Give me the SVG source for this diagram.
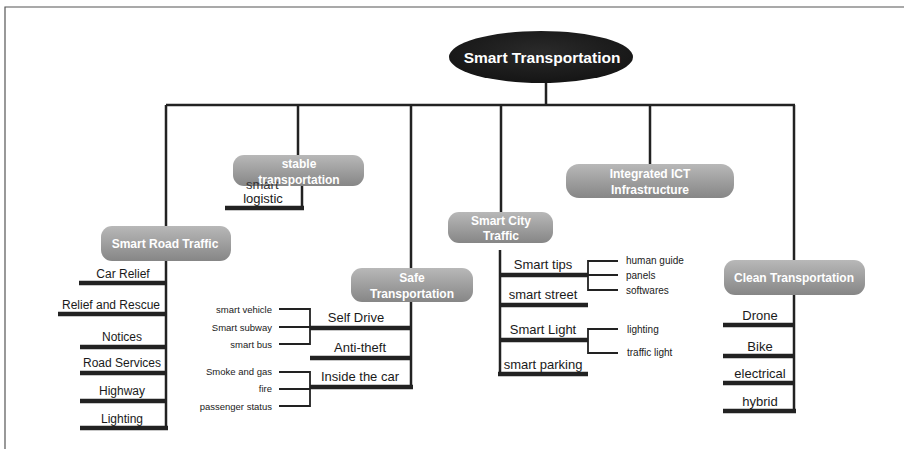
<svg xmlns="http://www.w3.org/2000/svg" width="904" height="449" viewBox="0 0 904 449">
<defs>
<linearGradient id="g" x1="0" y1="0" x2="0" y2="1">
<stop offset="0" stop-color="#b8b8b8"/>
<stop offset="1" stop-color="#868686"/>
</linearGradient>
<radialGradient id="e" cx="0.5" cy="0.4" r="0.6">
<stop offset="0" stop-color="#2a2a2a"/>
<stop offset="1" stop-color="#151515"/>
</radialGradient>
</defs>
<style>
.f{fill:none;stroke:#555;stroke-width:1.2}
.m{fill:none;stroke:#222;stroke-width:2.5}
.u{fill:none;stroke:#222;stroke-width:4.5}
.b{fill:none;stroke:#222;stroke-width:1.8}
.box{fill:url(#g)}
.bt{font-family:"Liberation Sans",Arial,sans-serif;font-weight:bold;font-size:12px;fill:#fff;text-anchor:middle}
.t{font-family:"Liberation Sans",Arial,sans-serif;font-size:13px;fill:#1a1a1a;text-anchor:middle}
.tl{font-family:"Liberation Sans",Arial,sans-serif;font-size:12px;fill:#1a1a1a;text-anchor:middle}
.s{font-family:"Liberation Sans",Arial,sans-serif;font-size:9.5px;fill:#1a1a1a;text-anchor:end}
.sr{font-family:"Liberation Sans",Arial,sans-serif;font-size:10px;fill:#1a1a1a}
</style>
<rect width="904" height="449" fill="#fff"/>
<path class="f" d="M5,449 V7 H904"/>
<g id="connectors">
<path class="m" d="M546,82 V105 M166,105 H795 M166,105 V226 M298,105 V155 M411,105 V268 M501,105 V212 M650,105 V164 M794,105 V260"/>
<path class="m" d="M166,261 V429 M302,186 V208 M411,302 V388 M500,250 V375 M794,295 V413"/>
<path class="u" d="M79,283 H166 M58,314 H166 M80,347 H166 M80,373 H166 M80,401 H166 M80,428 H168"/>
<path class="u" d="M225,208 H304"/>
<path class="u" d="M310,328 H411 M310,358 H411 M310,387 H413"/>
<path class="u" d="M500,275 H588 M500,305 H588 M500,340 H588 M498,374 H588"/>
<path class="u" d="M723,325 H794 M723,356 H794 M723,383 H794 M723,411 H796"/>
<path class="b" d="M279,309 H310 V344 H279 M279,327 H310 M279,372 H310 V406 H279 M279,389 H310"/>
<path class="b" d="M618,261 H588 V290 H618 M588,275 H618 M618,329 H588 V353 H618"/>
</g>
<g id="root">
<ellipse cx="541" cy="57" rx="92" ry="26" fill="url(#e)"/>
<text x="542" y="63" font-family="Liberation Sans,Arial,sans-serif" font-weight="bold" font-size="15.5" fill="#fff" text-anchor="middle">Smart Transportation</text>
</g>
<g id="road-traffic">
<rect class="box" x="101" y="226" width="130" height="35" rx="11"/>
<text class="bt" x="165" y="248">Smart Road Traffic</text>
<text class="tl" x="123" y="278">Car Relief</text>
<text class="tl" x="111" y="309">Relief and Rescue</text>
<text class="tl" x="122" y="341">Notices</text>
<text class="tl" x="122" y="367">Road Services</text>
<text class="tl" x="122" y="395">Highway</text>
<text class="tl" x="122" y="423">Lighting</text>
</g>
<g id="stable">
<rect class="box" x="233" y="155" width="131" height="31" rx="11"/>
<text x="246" y="189" font-family="Liberation Sans,Arial,sans-serif" font-size="13" fill="#333">smart</text>
<text class="bt" x="299" y="168">stable</text>
<text class="bt" x="299" y="184">transportation</text>
<text class="t" x="263" y="203">logistic</text>
</g>
<g id="safe">
<rect class="box" x="351" y="268" width="122" height="34" rx="11"/>
<text class="bt" x="412" y="282">Safe</text>
<text class="bt" x="412" y="298">Transportation</text>
<text class="t" x="356" y="322">Self Drive</text>
<text class="t" x="360" y="352">Anti-theft</text>
<text class="t" x="360" y="381">Inside the car</text>
<text class="s" x="272" y="313">smart vehicle</text>
<text class="s" x="272" y="331">Smart subway</text>
<text class="s" x="272" y="348">smart bus</text>
<text class="s" x="272" y="375">Smoke and gas</text>
<text class="s" x="272" y="392">fire</text>
<text class="s" x="272" y="410">passenger status</text>
</g>
<g id="city">
<rect class="box" x="448" y="212" width="105" height="31" rx="11"/>
<text class="bt" x="501" y="225">Smart City</text>
<text class="bt" x="501" y="240">Traffic</text>
<text class="t" x="543" y="269">Smart tips</text>
<text class="t" x="543" y="299">smart street</text>
<text class="t" x="543" y="334">Smart Light</text>
<text class="t" x="543" y="369">smart parking</text>
<text class="sr" x="626" y="264">human guide</text>
<text class="sr" x="626" y="279">panels</text>
<text class="sr" x="626" y="294">softwares</text>
<text class="sr" x="627" y="333">lighting</text>
<text class="sr" x="627" y="356">traffic light</text>
</g>
<g id="ict">
<rect class="box" x="566" y="164" width="168" height="34" rx="13"/>
<text class="bt" x="650" y="178">Integrated ICT</text>
<text class="bt" x="650" y="194">Infrastructure</text>
</g>
<g id="clean">
<rect class="box" x="724" y="260" width="141" height="35" rx="11"/>
<text class="bt" x="794" y="282">Clean Transportation</text>
<text class="t" x="760" y="320">Drone</text>
<text class="t" x="760" y="351">Bike</text>
<text class="t" x="760" y="378">electrical</text>
<text class="t" x="760" y="406">hybrid</text>
</g>
</svg>
